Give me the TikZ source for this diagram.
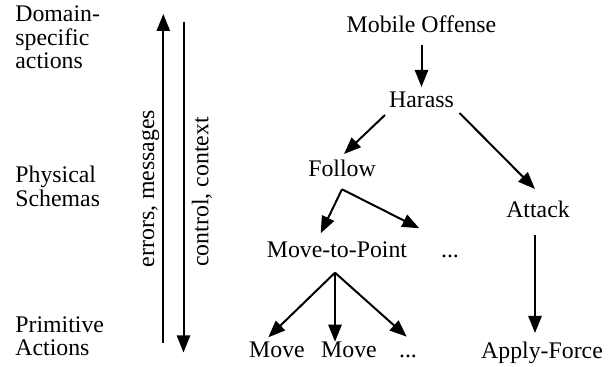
\documentclass[tikz,border=0pt]{standalone}
\usepackage{fontspec}
\setmainfont{Liberation Serif}
\usetikzlibrary{arrows.meta,calc}
\begin{document}
\begin{tikzpicture}[x=0.5pt,y=-0.5pt,
  lbl/.style={font=\fontsize{11.9}{11.5}\selectfont, inner sep=0pt},
  tnode/.style={lbl, anchor=base},
  side/.style={lbl, anchor=base west},
  arr/.style={line width=1pt, -{Triangle[length=8.5pt,width=6.6pt]}}]
\useasboundingbox (0,0) rectangle (615,367);
% left level labels
\node[side] (l1) at (15,22) {\begin{tabular}[t]{@{}l@{}}Domain-\\specific\\actions\end{tabular}};
\node[side] (l2) at (15,183) {\begin{tabular}[t]{@{}l@{}}Physical\\Schemas\end{tabular}};
\node[side] (l3) at (15,333) {\begin{tabular}[t]{@{}l@{}}Primitive\\Actions\end{tabular}};
% vertical flow arrows
\coordinate (upS) at (163.3,343);
\coordinate (upE) at (163.3,14);
\coordinate (dnS) at (183.5,21.7);
\coordinate (dnE) at (183.5,352.5);
\draw[arr] (upS) -- (upE);
\draw[arr] (dnS) -- (dnE);
\node[lbl, rotate=90, anchor=base] (err) at (154,188.5) {errors, messages};
\node[lbl, rotate=90, anchor=base] (ctl) at (208.3,192) {control, context};
% tree nodes
\node[tnode] (mo) at (421.5,33) {Mobile Offense};
\node[tnode] (ha) at (421.5,108) {Harass};
\node[tnode] (fo) at (342,177) {Follow};
\node[tnode] (at) at (538,218) {Attack};
\node[tnode] (mtp) at (337,258) {Move-to-Point};
\node[tnode] (d1) at (450,258) {...};
\node[tnode] (mv1) at (277,358) {Move};
\node[tnode] (mv2) at (349,358) {Move};
\node[tnode] (d2) at (408,358) {...};
\node[tnode] (af) at (542,359) {Apply-Force};
% connectors
\draw[arr] ($(mo.base)+(0,12)$) -- ($(ha.base)+(0,-21)$);
\draw[arr] ($(ha.base)+(-36.5,7)$) -- ($(fo.base)+(2,-23)$);
\draw[arr] ($(ha.base)+(38,5)$) -- ($(at.base)+(-3,-29)$);
\coordinate (fsplit) at ($(fo.base)+(0,12.3)$);
\draw[arr] (fsplit) -- ($(mtp.base)+(-16.3,-24.7)$);
\draw[arr] (fsplit) -- ($(d1.base)+(-30.7,-29.7)$);
\coordinate (msplit) at ($(mtp.base)+(-2,14.7)$);
\draw[arr] (msplit) -- ($(mv1.base)+(-8.7,-20.7)$);
\draw[arr] (msplit) -- ($(mv2.base)+(-14,-16.3)$);
\draw[arr] (msplit) -- ($(d2.base)+(-1.3,-21.3)$);
\draw[arr] ($(at.base)+(-3,17)$) -- ($(af.base)+(-7,-26)$);
\end{tikzpicture}
\end{document}
